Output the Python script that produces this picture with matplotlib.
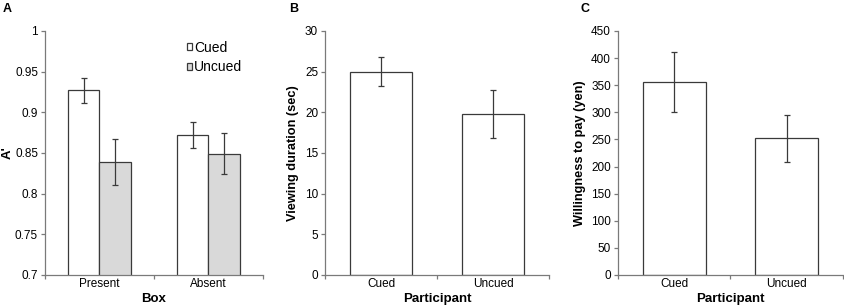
import numpy as np
import matplotlib
matplotlib.use("Agg")
import matplotlib.pyplot as plt

plt.rcParams['font.family'] = ['Liberation Sans', 'DejaVu Sans']

# Panel A: A' by box condition
box_labels = ["Present", "Absent"]
a_cued = [0.927, 0.872]
a_cued_err = [0.0155, 0.0155]
a_uncued = [0.839, 0.849]
a_uncued_err = [0.028, 0.025]
a_yticks = [0.7, 0.75, 0.8, 0.85, 0.9, 0.95, 1.0]
a_yticklabels = ["0.7", "0.75", "0.8", "0.85", "0.9", "0.95", "1"]

# Panel B: viewing duration
part_labels = ["Cued", "Uncued"]
b_vals = [25.0, 19.8]
b_err = [1.8, 3.0]
b_yticks = [0, 5, 10, 15, 20, 25, 30]

# Panel C: willingness to pay
c_vals = [356, 252]
c_err = [55, 43]
c_yticks = [0, 50, 100, 150, 200, 250, 300, 350, 400, 450]

edge = "#3a3a3a"
axcol = "#7a7a7a"
gray = "#d9d9d9"
tick_fs = 8.5

fig = plt.figure(figsize=(8.44, 3.05), dpi=100)
axA = fig.add_axes([0.0533, 0.0984, 0.2583, 0.80])
axB = fig.add_axes([0.3851, 0.0984, 0.2654, 0.80])
axC = fig.add_axes([0.7322, 0.0984, 0.2666, 0.80])


def style(ax, n):
    for s in ["top", "right"]:
        ax.spines[s].set_visible(False)
    for s in ["left", "bottom"]:
        ax.spines[s].set_color(axcol)
        ax.spines[s].set_linewidth(0.9)
    ax.set_xlim(-0.5, n - 0.5)
    # ticks at category boundaries, labels at centers
    ax.set_xticks(np.arange(n + 1) - 0.5)
    ax.set_xticklabels([])
    ax.set_xticks(np.arange(n), minor=True)
    ax.tick_params(axis="x", which="major", direction="out", length=3,
                   color=axcol, width=0.9)
    ax.tick_params(axis="x", which="minor", length=0, labelsize=tick_fs,
                   pad=2)
    ax.tick_params(axis="y", direction="out", length=3, color=axcol,
                   width=0.9, labelsize=tick_fs, pad=2)


err_kw = dict(ecolor=edge, elinewidth=0.9, capsize=2.2, capthick=0.9)

# A
x = np.arange(len(box_labels))
w = 0.29
axA.bar(x - w / 2, a_cued, w, yerr=a_cued_err, color="white",
        edgecolor=edge, linewidth=0.9, label="Cued", error_kw=err_kw)
axA.bar(x + w / 2, a_uncued, w, yerr=a_uncued_err, color=gray,
        edgecolor=edge, linewidth=0.9, label="Uncued", error_kw=err_kw)
style(axA, len(box_labels))
axA.set_xticklabels(box_labels, minor=True)
axA.set_ylim(0.7, 1.0)
axA.set_yticks(a_yticks)
axA.set_yticklabels(a_yticklabels)
axA.set_xlabel("Box", fontsize=9.5, fontweight="bold", labelpad=2)
axA.set_ylabel("A'", fontsize=9.5, fontweight="bold")
axA.yaxis.set_label_coords(-0.142, 0.5)
axA.legend(loc="upper left", bbox_to_anchor=(0.65, 0.96), frameon=False,
           fontsize=10, handlelength=0.4, handleheight=0.4,
           handletextpad=0.15, labelspacing=0.4, borderpad=0,
           borderaxespad=0)

# B
xb = np.arange(len(part_labels))
axB.bar(xb, b_vals, 0.56, yerr=b_err, color="white", edgecolor=edge,
        linewidth=0.9, error_kw=err_kw)
style(axB, len(part_labels))
axB.set_xticklabels(part_labels, minor=True)
axB.set_ylim(0, 30)
axB.set_yticks(b_yticks)
axB.set_xlabel("Participant", fontsize=9.5, fontweight="bold", labelpad=2)
axB.set_ylabel("Viewing duration (sec)", fontsize=9.2, fontweight="bold")
axB.yaxis.set_label_coords(-0.116, 0.5)

# C
axC.bar(xb, c_vals, 0.56, yerr=c_err, color="white", edgecolor=edge,
        linewidth=0.9, error_kw=err_kw)
style(axC, len(part_labels))
axC.set_xticklabels(part_labels, minor=True)
axC.set_ylim(0, 450)
axC.set_yticks(c_yticks)
axC.set_xlabel("Participant", fontsize=9.5, fontweight="bold", labelpad=2)
axC.set_ylabel("Willingness to pay (yen)", fontsize=9.2, fontweight="bold")
axC.yaxis.set_label_coords(-0.142, 0.5)

for lbl, xp in [("A", 0.003), ("B", 0.343), ("C", 0.688)]:
    fig.text(xp, 0.99, lbl, fontsize=9, fontweight="bold", va="top",
             ha="left")

fig.savefig("out.png", dpi=100)
